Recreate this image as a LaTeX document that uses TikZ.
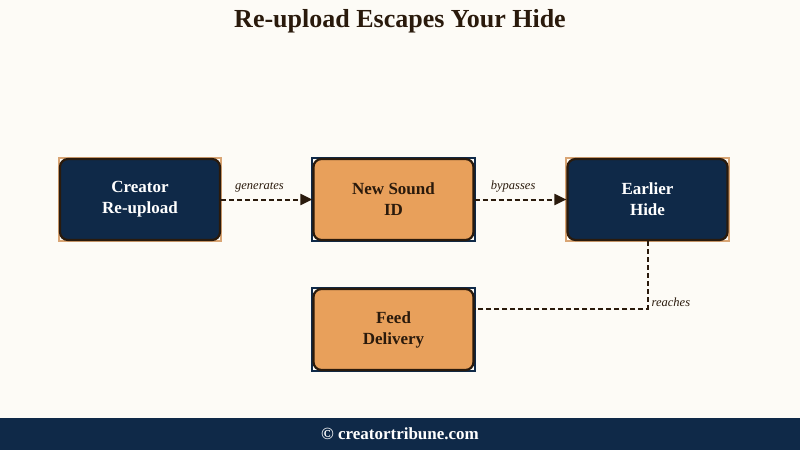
\documentclass[tikz,border=0pt]{standalone}
\usepackage{fontspec}
\setmainfont{Liberation Serif}
\usetikzlibrary{arrows.meta,backgrounds}
\definecolor{bgc}{HTML}{FDFBF6}
\definecolor{navy}{HTML}{0F2948}
\definecolor{orng}{HTML}{E8A05B}
\definecolor{brwn}{HTML}{2A1A0C}
\definecolor{tanc}{HTML}{D9A574}
\tikzset{
  x=1pt, y=-1pt,
  boxbase/.style={rounded corners=8pt, line width=2.2pt, draw=brwn,
    minimum width=160pt, minimum height=81pt, align=center,
    font=\bfseries\fontsize{17}{21}\selectfont},
  navybox/.style={boxbase, fill=navy, text=white},
  orngbox/.style={boxbase, fill=orng, text=brwn},
  conn/.style={draw=brwn, line width=2pt, dash pattern=on 5pt off 3pt},
  arr/.style={conn, -{Triangle[length=12pt,width=11pt]}},
  lbl/.style={font=\itshape\fontsize{12.5}{14}\selectfont, text=brwn}
}
\begin{document}
\begin{tikzpicture}
\useasboundingbox (0,0) rectangle (800,450);
\fill[navy] (0,418) rectangle (800,450);
\node[font=\bfseries\fontsize{17}{19}\selectfont, text=white] (foot) at (400,434) {© creatortribune.com};
\node[font=\bfseries\fontsize{26}{30}\selectfont, text=brwn] (title) at (400,21) {Re-upload Escapes Your Hide};

\node[navybox] (a) at (140,199.5) {Creator\\Re-upload};
\node[orngbox] (b) at (393.5,199.5) {New Sound\\ID};
\node[navybox] (c) at (647.5,199.5) {Earlier\\Hide};
\node[orngbox] (d) at (393.5,329.5) {Feed\\Delivery};

\begin{scope}[on background layer]
  \fill[bgc] (0,0) rectangle (800,418);
  \foreach \n/\col in {a/tanc,b/navy,c/tanc,d/navy}{
    \draw[\col, line width=2pt] (\n.south west) rectangle (\n.north east);
  }
\end{scope}

\draw[arr] (a.east) -- node[lbl, above=3pt, pos=0.42] (l1) {generates} (b.west);
\draw[arr] (b.east) -- node[lbl, above=3pt, pos=0.42] (l2) {bypasses} (c.west);
\coordinate (k) at (647.5,309);
\draw[conn] (c.south) -- (k) -- (k -| d.east);
\node[lbl, anchor=south west, inner sep=1pt] (l3) at ([xshift=3pt,yshift=1pt]k) {reaches};
\end{tikzpicture}
\end{document}
